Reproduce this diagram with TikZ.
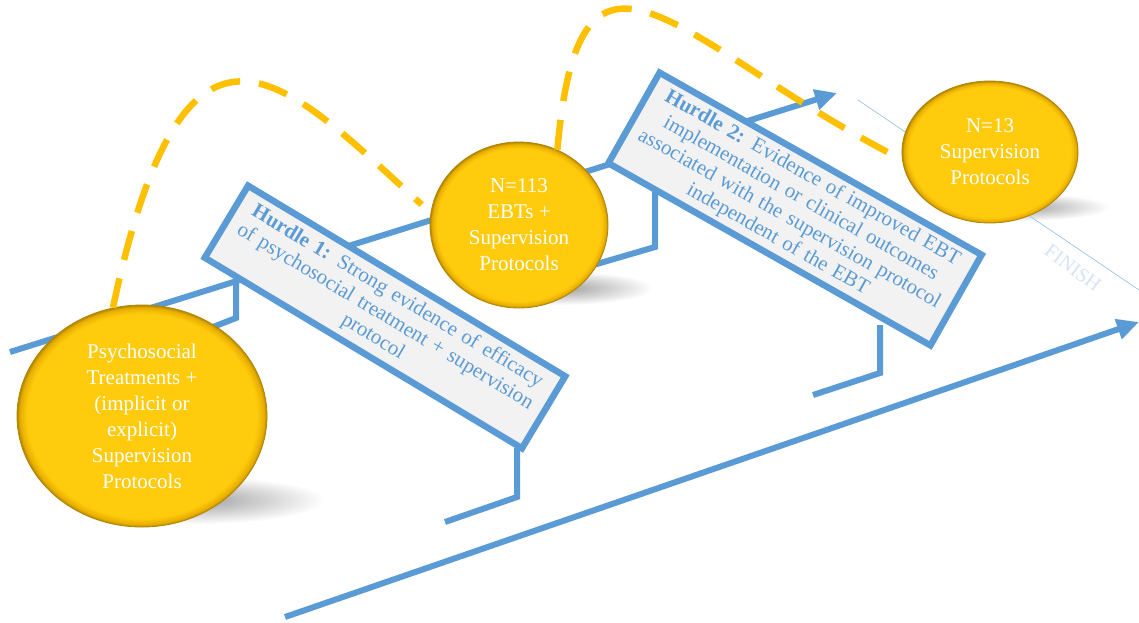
\documentclass[tikz,border=0pt]{standalone}
\usepackage{fontspec}
\setmainfont{Liberation Serif}
\usetikzlibrary{arrows.meta,shapes.geometric}
\definecolor{track}{HTML}{5B9BD5}
\definecolor{boxgray}{HTML}{F2F2F2}
\definecolor{dashgold}{HTML}{FFC000}
\definecolor{goldA}{HTML}{FFCB0C}
\definecolor{goldB}{HTML}{E8AE00}
\definecolor{goldC}{HTML}{B08600}
\definecolor{finish}{HTML}{D4E4F4}
\definecolor{finishline}{HTML}{9DC3E6}
\pgfdeclareradialshading{goldball}{\pgfpoint{0bp}{0bp}}{color(0bp)=(goldA); color(23bp)=(goldA); color(24.4bp)=(goldB); color(25bp)=(goldC); color(50bp)=(goldC)}

\begin{document}
\begin{tikzpicture}[x=1pt,y=1pt,
  rail/.style={track, line width=6pt},
  hurdle/.style={draw=track, line width=6.5pt, fill=boxgray, text=track, align=center, inner xsep=7pt, font=\fontsize{21}{23.5}\selectfont},
  pool/.style={ellipse, shade, shading=goldball, draw=goldC, line width=0.8pt, text=white, align=center, inner sep=0pt, font=\fontsize{21}{26}\selectfont},
  jump/.style={dashgold, line width=6.5pt, dash pattern=on 30pt off 19pt},
  shadowfill/.style={inner color=black!38, outer color=white}]
\useasboundingbox (0,0) rectangle (1139,-622);

\shade[shadowfill] (195,-500) ellipse (130 and 24);
\shade[shadowfill] (560,-288) ellipse (93 and 17);
\shade[shadowfill] (1018,-207) ellipse (92 and 14);

\draw[finishline, line width=0.7pt] (858,-100) -- (1139,-290);
\node[text=finish, rotate=-37, font=\fontsize{20}{20}\selectfont] (finish) at (1073,-268) {FINISH};

\draw[rail, -{Triangle[length=22pt,width=20pt]}] (285,-617) -- (1139,-322);
\draw[rail, -{Triangle[length=22pt,width=20pt]}] (10,-352) -- (837,-93);

\draw[rail] (236,-280) -- (236,-318) -- (200,-332);
\draw[rail] (517,-448) -- (517,-497) -- (445,-522);
\draw[rail] (655,-192) -- (655,-247) -- (590,-266);
\draw[rail] (880,-325) -- (880,-373) -- (813,-395);

\node[hurdle, rotate=-31, minimum width=370pt, minimum height=84pt, text width=356pt] (h1) at (385,-317)
  {\textbf{Hurdle 1:} Strong evidence of efficacy\\of psychosocial treatment + supervision\\protocol};
\node[hurdle, rotate=-29.5, minimum width=370pt, minimum height=104pt, text width=356pt] (h2) at (795,-209)
  {\textbf{Hurdle 2:} Evidence of improved EBT\\implementation or clinical outcomes\\associated with the supervision protocol\\independent of the EBT};

\node[pool, minimum width=250pt, minimum height=222pt] (psych) at (142,-416)
  {Psychosocial\\Treatments +\\(implicit or\\explicit)\\Supervision\\Protocols};
\node[pool, minimum width=178pt, minimum height=166pt] (ebt) at (519,-225)
  {N=113\\EBTs +\\Supervision\\Protocols};
\node[pool, minimum width=176pt, minimum height=142pt] (sup) at (990,-152)
  {N=13\\Supervision\\Protocols};

\draw[jump, shorten >=12pt] (psych.105) .. controls +(78:353) and +(138:192) .. (ebt.172);
\draw[jump] (ebt.63) .. controls +(85:260) and +(153:250) .. (sup.185);

\end{tikzpicture}
\end{document}
